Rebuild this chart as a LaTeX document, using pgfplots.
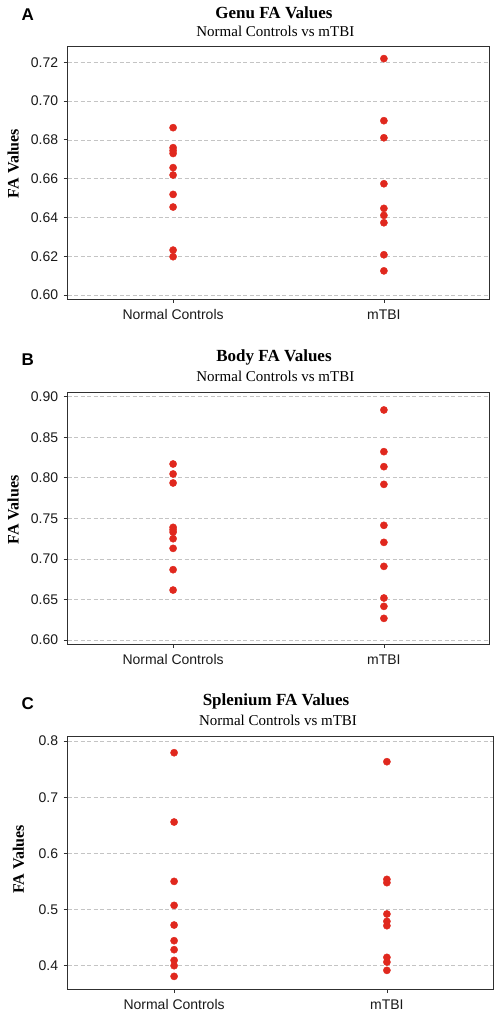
\documentclass[border=0pt]{standalone}
\usepackage{pgfplots}
\pgfplotsset{compat=1.18}
\usepackage{fontspec}
\setmainfont{Liberation Serif}
\newfontfamily\sansf{Liberation Sans}
\definecolor{dotred}{HTML}{E0281E}
\definecolor{gridgray}{HTML}{C4C4C4}
\definecolor{axgray}{HTML}{303030}
\pgfplotsset{
  panel/.style={
    scale only axis,
    anchor=south west,
    xmin=0.5, xmax=2.5,
    xtick={1,2},
    xticklabels={Normal Controls, mTBI},
    axis line style={axgray, line width=0.9pt},
    tick style={axgray, line width=0.8pt},
    tick align=outside,
    major tick length=4pt,
    xtick pos=bottom, ytick pos=left,
    ymajorgrids=true,
    major grid style={gridgray, dashed, line width=0.6pt, dash pattern=on 4pt off 2.5pt},
    /pgf/number format/assume math mode=true,
    tick label style={font=\sansf\fontsize{14}{14}\selectfont, text=black!90},
    yticklabel style={xshift=-2pt},
    xticklabel style={yshift=-3pt},
    ylabel={FA Values},
    ylabel style={font=\bfseries\fontsize{16}{16}\selectfont, rotate=0, anchor=center},
  },
  dots/.style={only marks, mark=*, mark size=3.6pt, color=dotred, mark options={draw=dotred, fill=dotred}},
}
\begin{document}
\begin{tikzpicture}[x=1pt,y=1pt]
\useasboundingbox (0,0) rectangle (500,1017);
% ---------- Panel A ----------
\node[font=\sansf\bfseries\fontsize{17}{17}\selectfont, anchor=center] at (27.7,1002) {A};
\node[font=\bfseries\fontsize{17}{17}\selectfont, anchor=center] at (274,1004.7) {Genu FA Values};
\node[font=\fontsize{15}{15}\selectfont, anchor=center] at (275.3,985.3) {Normal Controls vs mTBI};
\begin{axis}[panel, at={(67.7pt,718pt)}, width=421.6pt, height=253pt,
  ymin=0.598, ymax=0.7284,
  ytick={0.60,0.62,0.64,0.66,0.68,0.70,0.72},
  yticklabel style={/pgf/number format/.cd, fixed, fixed zerofill, precision=2},
  ylabel style={at={(axis description cs:-0.129,0.535)}}]
\addplot[dots] coordinates {
(1,0.6863) (1,0.6760) (1,0.6745) (1,0.6730) (1,0.6657) (1,0.6619) (1,0.6519) (1,0.6454) (1,0.6232) (1,0.6198)
(2,0.7219) (2,0.6899) (2,0.6811) (2,0.6574) (2,0.6447) (2,0.6411) (2,0.6373) (2,0.6208) (2,0.6125)
};
\end{axis}
% ---------- Panel B ----------
\node[font=\sansf\bfseries\fontsize{17}{17}\selectfont, anchor=center] at (27.7,657.7) {B};
\node[font=\bfseries\fontsize{17}{17}\selectfont, anchor=center] at (274,659.7) {Body FA Values};
\node[font=\fontsize{15}{15}\selectfont, anchor=center] at (275.3,640.3) {Normal Controls vs mTBI};
\begin{axis}[panel, at={(67.7pt,373pt)}, width=421.6pt, height=251.3pt,
  ymin=0.5951, ymax=0.9049,
  ytick={0.60,0.65,0.70,0.75,0.80,0.85,0.90},
  yticklabel style={/pgf/number format/.cd, fixed, fixed zerofill, precision=2},
  ylabel style={at={(axis description cs:-0.129,0.534)}}]
\addplot[dots] coordinates {
(1,0.8170) (1,0.8047) (1,0.7936) (1,0.7389) (1,0.7360) (1,0.7330) (1,0.7249) (1,0.7130) (1,0.6867) (1,0.6616)
(2,0.8836) (2,0.8322) (2,0.8137) (2,0.7919) (2,0.7414) (2,0.7204) (2,0.6908) (2,0.6518) (2,0.6415) (2,0.6267)
};
\end{axis}
% ---------- Panel C ----------
\node[font=\sansf\bfseries\fontsize{17}{17}\selectfont, anchor=center] at (27.7,313) {C};
\node[font=\bfseries\fontsize{17}{17}\selectfont, anchor=center] at (276,315.3) {Splenium FA Values};
\node[font=\fontsize{15}{15}\selectfont, anchor=center] at (278,296.3) {Normal Controls vs mTBI};
\begin{axis}[panel, at={(67.7pt,28pt)}, width=425.6pt, height=252.3pt,
  ymin=0.3585, ymax=0.8077,
  ytick={0.4,0.5,0.6,0.7,0.8},
  yticklabel style={/pgf/number format/.cd, fixed, fixed zerofill, precision=1},
  ylabel style={at={(axis description cs:-0.116,0.514)}}]
\addplot[dots] coordinates {
(1,0.7792) (1,0.6558) (1,0.5501) (1,0.5074) (1,0.4724) (1,0.4445) (1,0.4285) (1,0.4095) (1,0.4000) (1,0.3810)
(2,0.7632) (2,0.5537) (2,0.5478) (2,0.4920) (2,0.4789) (2,0.4712) (2,0.4148) (2,0.4065) (2,0.3917)
};
\end{axis}
\end{tikzpicture}
\end{document}
